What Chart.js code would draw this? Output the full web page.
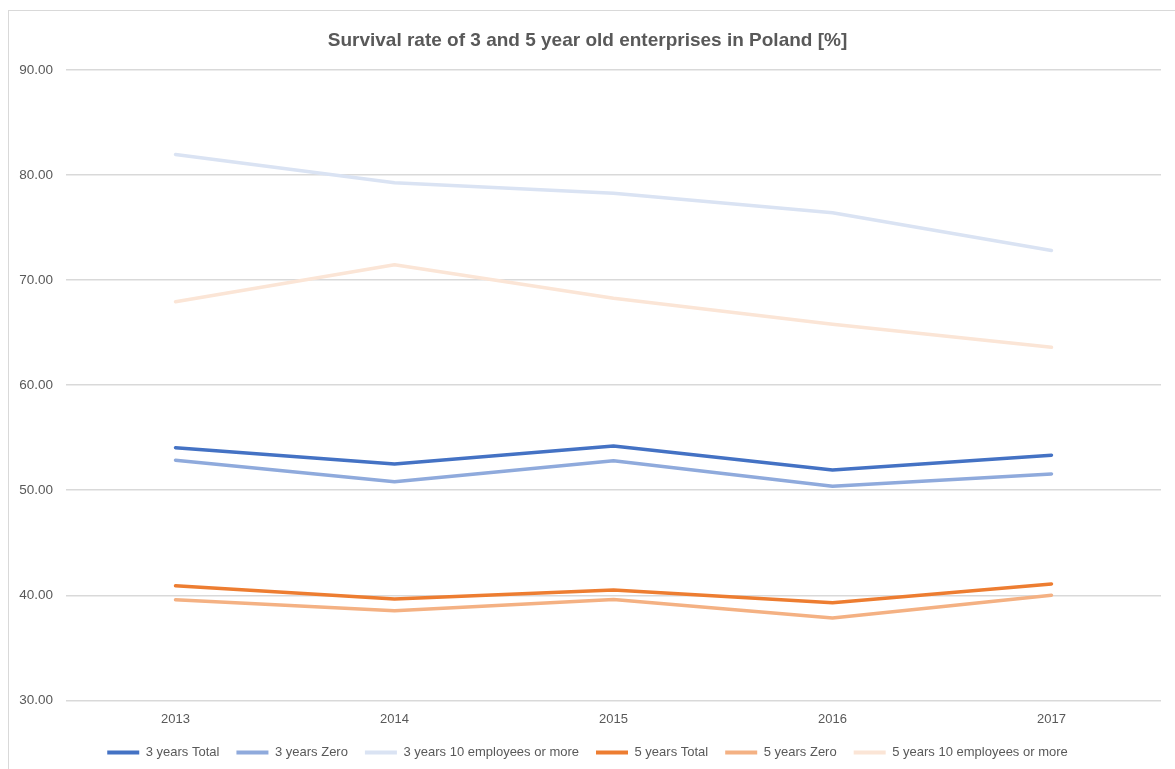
<!DOCTYPE html>
<html lang="en">
<head>
  <meta charset="UTF-8" />
  <title>Survival rate of 3 and 5 year old enterprises in Poland</title>
  <script src="https://cdn.jsdelivr.net/npm/chart.js"></script>
  <style>
    body {
      margin: 0;
      background: #fff;
      overflow: hidden;
    }
    .frame {
      position: absolute;
      left: 8px;
      top: 10px;
      width: 1200px;
      height: 800px;
      border: 1px solid #d9d9d9;
    }
    .chart-box {
      position: absolute;
      left: 0;
      top: 0;
      width: 1175px;
      height: 769px;
    }
  </style>
</head>
<body>
  <div class="frame"></div>
  <div class="chart-box">
    <canvas id="survivalChart"></canvas>
  </div>

  <script>
    // Data
    const years = ['2013', '2014', '2015', '2016', '2017'];
    const threeTotal = [54.05, 52.5, 54.2, 51.93, 53.33];
    const threeZero = [52.86, 50.8, 52.8, 50.38, 51.55];
    const threeTenPlus = [81.95, 79.25, 78.26, 76.4, 72.8];
    const fiveTotal = [40.9, 39.64, 40.5, 39.3, 41.08];
    const fiveZero = [39.57, 38.52, 39.59, 37.84, 40.0];
    const fiveTenPlus = [67.93, 71.45, 68.26, 65.8, 63.6];

    const textColor = '#595959';
    const gridColor = '#d9d9d9';

    function series(label, data, color) {
      return {
        label: label,
        data: data,
        borderColor: color,
        backgroundColor: color,
        borderWidth: 3.5,
        pointRadius: 0,
        pointHoverRadius: 0,
        tension: 0,
        borderCapStyle: 'round',
        borderJoinStyle: 'round'
      };
    }

    const ctx = document.getElementById('survivalChart').getContext('2d');
    new Chart(ctx, {
      type: 'line',
      data: {
        labels: years,
        datasets: [
          series('3 years Total', threeTotal, '#4472c4'),
          series('3 years Zero', threeZero, '#8faadc'),
          series('3 years 10 employees or more', threeTenPlus, '#dae3f3'),
          series('5 years Total', fiveTotal, '#ed7d31'),
          series('5 years Zero', fiveZero, '#f4b183'),
          series('5 years 10 employees or more', fiveTenPlus, '#fbe5d6')
        ]
      },
      options: {
        responsive: true,
        maintainAspectRatio: false,
        animation: false,
        layout: {
          padding: { left: 14, right: 14, top: 14, bottom: 0 }
        },
        plugins: {
          title: {
            display: true,
            text: 'Survival rate of 3 and 5 year old enterprises in Poland [%]',
            color: textColor,
            font: { family: 'Liberation Sans', size: 19, weight: 'bold' },
            padding: { top: 15, bottom: 18 }
          },
          legend: {
            position: 'bottom',
            labels: {
              color: textColor,
              font: { family: 'Liberation Sans', size: 13 },
              boxWidth: 32,
              boxHeight: 4,
              padding: 17,
              generateLabels: function (chart) {
                const items = Chart.defaults.plugins.legend.labels.generateLabels(chart);
                items.forEach(function (it) {
                  it.lineWidth = 0;
                  it.fillStyle = it.strokeStyle;
                });
                return items;
              }
            }
          },
          tooltip: { enabled: false }
        },
        scales: {
          x: {
            offset: true,
            grid: { display: false, drawTicks: false },
            border: { display: false },
            ticks: {
              color: textColor,
              font: { family: 'Liberation Sans', size: 13 },
              padding: 11
            },
            afterFit: function (scale) { scale.height = scale.height - 9; }
          },
          y: {
            min: 30,
            max: 90,
            grid: { color: gridColor, lineWidth: 1.5, drawTicks: false },
            border: { display: false },
            ticks: {
              stepSize: 10,
              color: textColor,
              font: { family: 'Liberation Sans', size: 13.5 },
              padding: 13,
              callback: function (v) { return Number(v).toFixed(2); }
            },
            afterFit: function (scale) { scale.width = 52; }
          }
        }
      }
    });
  </script>
</body>
</html>
